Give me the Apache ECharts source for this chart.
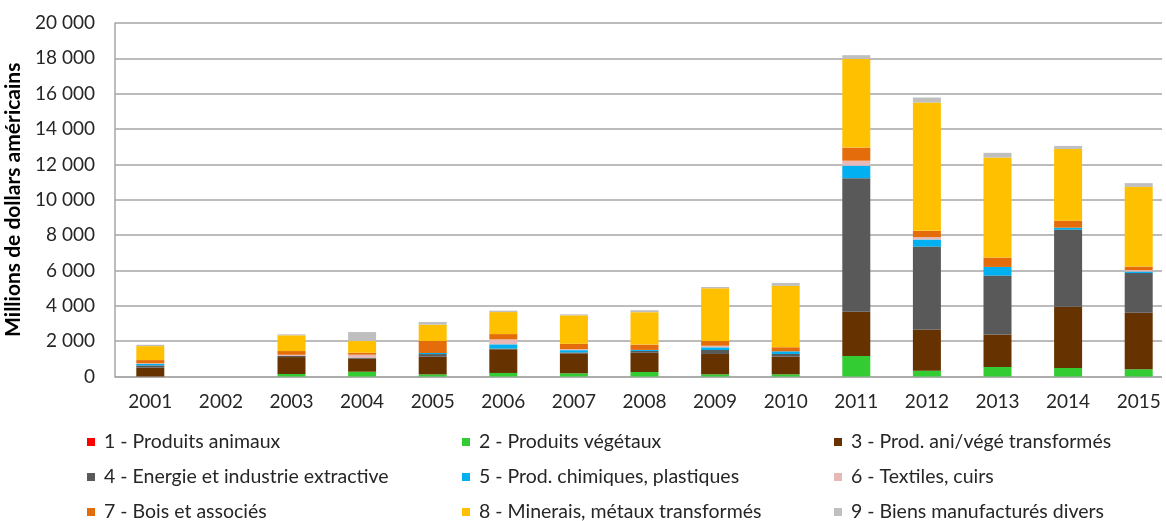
<!DOCTYPE html>
<html><head><meta charset="utf-8">
<script src="https://cdn.jsdelivr.net/npm/echarts@6/dist/echarts.min.js"></script>
<style>html,body{margin:0;padding:0;background:#fff}#c{width:1166px;height:521px}</style>
</head><body><div id="c"></div>
<script>
const years = ['2001','2002','2003','2004','2005','2006','2007','2008','2009','2010','2011','2012','2013','2014','2015'];
const names = ['1 - Produits animaux','2 - Produits végétaux','3 - Prod. ani/végé transformés','4 - Energie et industrie extractive','5 - Prod. chimiques, plastiques','6 - Textiles, cuirs','7 - Bois et associés','8 - Minerais, métaux transformés','9 - Biens manufacturés divers'];
const colors = ['#FF0000','#33CC33','#663300','#595959','#00B0F0','#E6B9B8','#E46C0A','#FFC000','#BFBFBF'];
const s1 = [0,0,0,0,0,0,0,0,0,0,0,0,0,0,0];
const s2 = [0,0,140,270,120,200,180,255,125,125,1160,330,540,480,410];
const s3 = [500,0,960,735,1000,1340,1130,1090,1150,1000,2510,2320,1830,3470,3190];
const s4 = [130,0,60,60,150,40,50,100,225,150,7550,4700,3340,4360,2250];
const s5 = [90,0,0,0,60,240,130,60,150,150,710,400,490,110,90];
const s6 = [30,0,70,170,0,280,60,0,90,0,280,135,0,0,80];
const s7 = [180,0,210,110,680,300,300,300,265,230,740,355,530,395,200];
const s8 = [790,0,890,660,920,1245,1610,1835,2985,3470,5020,7260,5660,4060,4510];
const s9 = [75,0,55,510,155,80,55,110,75,170,210,285,265,170,210];

const all = [s1,s2,s3,s4,s5,s6,s7,s8,s9];
const font = 'Lato, "Open Sans", sans-serif';
const series = all.map((d,i)=>({
  name: names[i], type:'bar', stack:'t', data:d, barWidth:28,
  itemStyle:{color:colors[i]},
  emphasis:{disabled:true}
}));
const colX = [87,462,834], rowY = [432,467,502];
const legends = names.map((n,i)=>({
  left: colX[i%3], top: rowY[Math.floor(i/3)], padding:0, itemWidth:8, itemHeight:8, icon:'rect',
  data:[n], selectedMode:false,
  textStyle:{fontFamily:font, fontSize:19.5, lineHeight:20, color:'#262626', padding:[0,0,0,4]}
}));
const chart = echarts.init(document.getElementById('c'));
chart.setOption({
  animation:false,
  color: colors,
  grid:{left:115, top:23, width:1059, height:353.5, containLabel:false, outerBoundsMode:'none'},
  legend: legends,
  graphic:[{type:'rect', left:1162, top:0, z:100, shape:{width:10, height:380}, style:{fill:'#fff'}, silent:true}],
  xAxis:{type:'category', data:years,
    axisLine:{lineStyle:{color:'#A6A6A6', width:1.5}}, axisTick:{show:false},
    axisLabel:{fontFamily:font, fontSize:19, color:'#262626', margin:16}},
  yAxis:{type:'value', min:0, max:20000, interval:2000,
    name:'Millions de dollars américains', nameLocation:'middle', nameGap:78,
    nameTextStyle:{fontFamily:font, fontSize:21, fontWeight:'bold', color:'#000'},
    axisLine:{show:true, lineStyle:{color:'#A6A6A6', width:1.5}}, axisTick:{show:false},
    splitLine:{lineStyle:{color:'#A6A6A6', width:1.5}},
    axisLabel:{fontFamily:font, fontSize:19, color:'#262626', margin:20,
      formatter:v=>String(v).replace(/\B(?=(\d{3})+(?!\d))/g,' ')}},
  series: series
});
</script></body></html>
